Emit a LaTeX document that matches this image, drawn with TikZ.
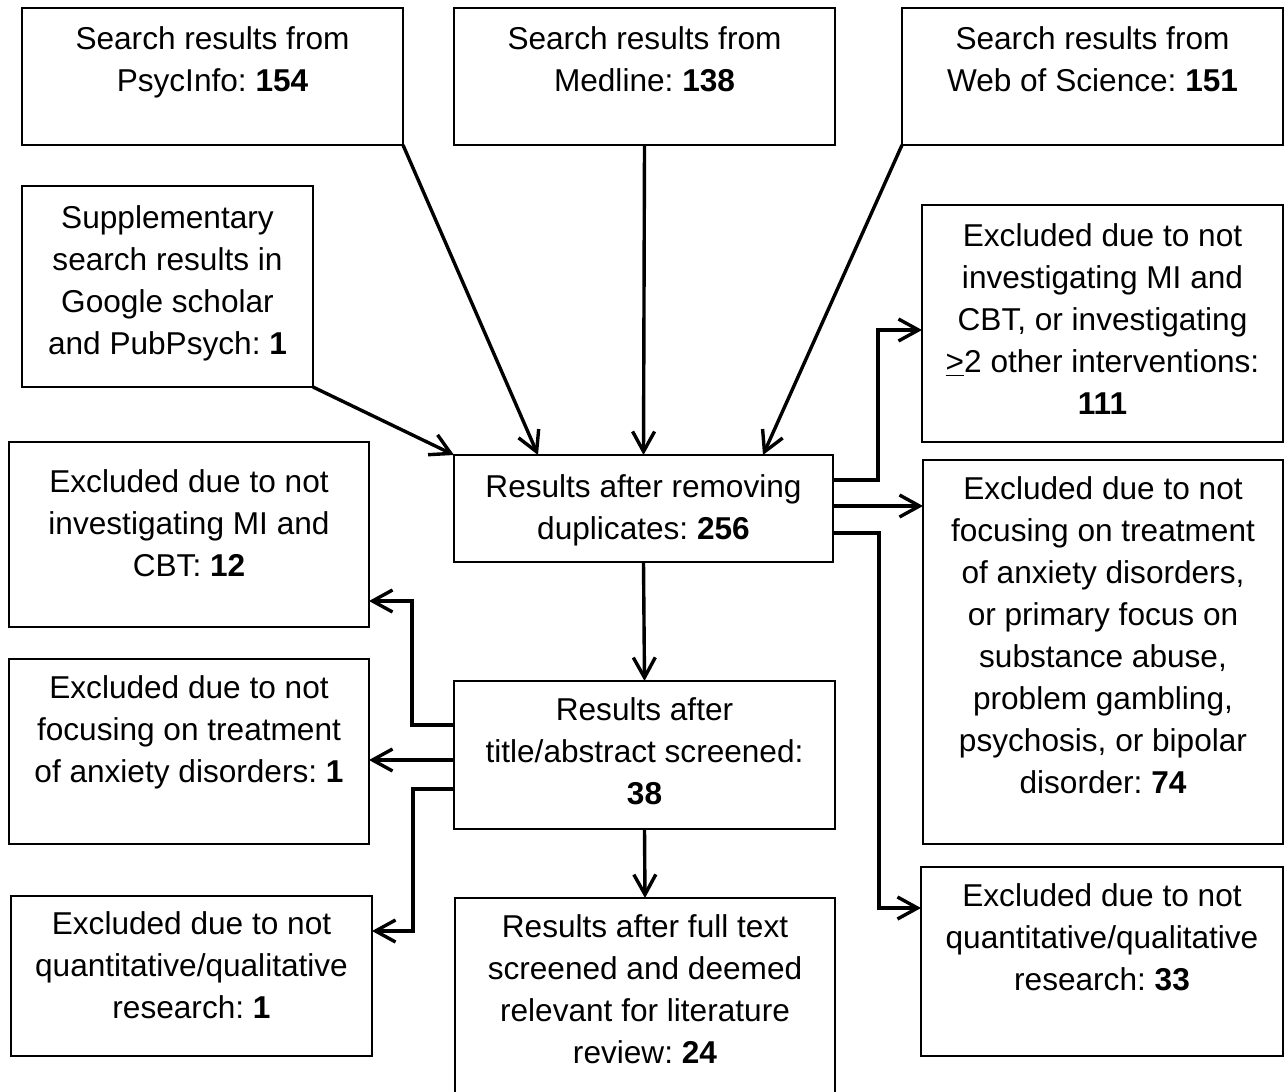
\documentclass[tikz,border=0pt]{standalone}
\usepackage{fontspec}
\setmainfont{Liberation Sans}
\frenchspacing
\usetikzlibrary{arrows.meta}
\tikzset{
  box/.style={draw, line width=0.9pt, rectangle, outer sep=0pt, inner sep=0pt},
  txt/.style={align=center, inner sep=0pt, font=\fontsize{15.8}{21}\selectfont},
  arr/.style={line width=1.7pt, -{Straight Barb[length=10pt,width=11pt]}},
}
\newcommand{\fbx}[7]{%
  \node[box, anchor=north west, minimum width={(#4-#2)*0.5pt}, minimum height={(#5-#3)*0.5pt}] (#1) at (#2,#3) {};
  \node[txt, anchor=north] (#1t) at ([yshift={-(#7*0.5pt-14.7pt)}]#1.north) {\strut #6};
}
\begin{document}
\begin{tikzpicture}[x=0.5pt, y=-0.5pt]
\useasboundingbox (0,0) rectangle (1285,1092);
\fill[white] (0,0) rectangle (1285,1092);
\fbx{psyc}{22}{8}{403}{145}{Search results from\\PsycInfo: \textbf{154}}{41}
\fbx{med}{454}{8}{835}{145}{Search results from\\Medline: \textbf{138}}{41}
\fbx{wos}{902}{8}{1283}{145}{Search results from\\Web of Science: \textbf{151}}{41}
\fbx{supp}{22}{186}{313}{387}{Supplementary\\search results in\\Google scholar\\and PubPsych: \textbf{1}}{42}
\fbx{exa}{922}{205}{1283}{442}{Excluded due to not\\investigating MI and\\CBT, or investigating\\\underline{>}2 other interventions:\\\textbf{111}}{41}
\fbx{dup}{454}{455}{833}{562}{Results after removing\\duplicates: \textbf{256}}{42}
\fbx{exb}{9}{442}{369}{627}{Excluded due to not\\investigating MI and\\CBT: \textbf{12}}{50}
\fbx{exc}{923}{460}{1283}{844}{Excluded due to not\\focusing on treatment\\of anxiety disorders,\\or primary focus on\\substance abuse,\\problem gambling,\\psychosis, or bipolar\\disorder: \textbf{74}}{39}
\fbx{exd}{9}{659}{369}{844}{Excluded due to not\\focusing on treatment\\of anxiety disorders: \textbf{1}}{39}
\fbx{title}{454}{681}{835}{829}{Results after\\title/abstract screened:\\\textbf{38}}{39}
\fbx{exe}{11}{896}{372}{1056}{Excluded due to not\\quantitative/qualitative\\research: \textbf{1}}{38}
\fbx{full}{455}{898}{835}{1100}{Results after full text\\screened and deemed\\relevant for literature\\review: \textbf{24}}{39}
\fbx{exf}{921}{867}{1283}{1056}{Excluded due to not\\quantitative/qualitative\\research: \textbf{33}}{39}
% connectors
\draw[arr] (psyc.south east) -- ([xshift=42pt]dup.north west);
\draw[arr] (med.south) -- (dup.north);
\draw[arr] (wos.south west) -- ([xshift=-35pt]dup.north east);
\draw[arr] (supp.south east) -- (dup.north west);
\draw[arr] (dup.east |- 0,480) -- (878,480) -- (878,330) -- (exa.west |- 0,330);
\draw[arr] (dup.east |- 0,506) -- (exc.west |- 0,506);
\draw[arr] (dup.east |- 0,533) -- (879,533) -- (879,908) -- (exf.west |- 0,908);
\draw[arr] (dup.south) -- (title.north);
\draw[arr] (title.west |- 0,725) -- (412,725) -- (412,601) -- (exb.east |- 0,601);
\draw[arr] (title.west |- 0,760) -- (exd.east |- 0,760);
\draw[arr] (title.west |- 0,789) -- (413,789) -- (413,931) -- (exe.east |- 0,931);
\draw[arr] (title.south) -- (full.north);
\end{tikzpicture}
\end{document}
